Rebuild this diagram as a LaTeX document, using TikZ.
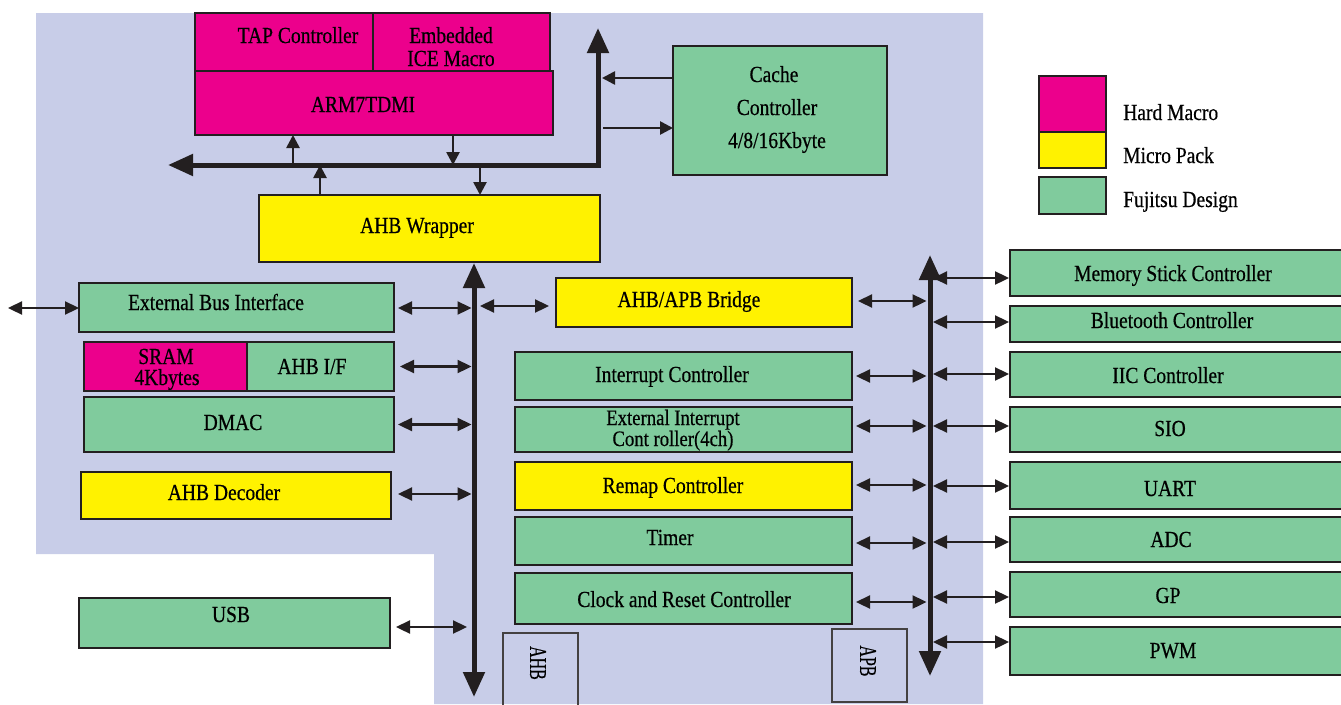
\documentclass[tikz,border=0pt]{standalone}
\usepackage{fontspec}
\setmainfont[FakeStretch=0.85,FakeBold=0.5]{Liberation Serif}
\usepackage{graphicx}
\usetikzlibrary{arrows.meta,calc}
\definecolor{hard}{HTML}{EC008C}
\definecolor{micro}{HTML}{FFF200}
\definecolor{fuji}{HTML}{80CB9D}
\definecolor{lav}{HTML}{C8CDE8}
\definecolor{linec}{HTML}{231F20}
\newcommand\blk[6]{\node[box, fill=#6, minimum width={#4-#2}, minimum height={#5-#3}] (#1) at ({(#2+#4)/2},{(#3+#5)/2}) {};}
\newcommand\tx[4]{\node[lbl] (#1) at (#2,#3) {#4};}
\begin{document}
\begin{tikzpicture}[x=1pt,y=-1pt,
  box/.style={draw=linec, line width=2.6pt, inner sep=0pt, outer sep=0pt},
  lbl/.style={font=\fontsize{23}{23}\selectfont, inner sep=0pt, anchor=base, text=black},
  lbls/.style={lbl, font=\fontsize{22}{22}\selectfont},
  lblw/.style={lbl, anchor=base west},
  dbl/.style={draw=linec, line width=2.3pt, {Triangle[length=14pt,width=13pt]}-{Triangle[length=14pt,width=13pt]}},
  sgl/.style={draw=linec, line width=2.6pt, -{Triangle[length=13pt,width=13pt]}},
  bus/.style={draw=linec, line width=5pt, line join=miter, {Triangle[length=25pt,width=21pt]}-{Triangle[length=25pt,width=21pt]}},
  tagbox/.style={draw=linec!85, line width=1.6pt, inner sep=0pt, outer sep=0pt},
  tag/.style={font=\fontsize{24}{24}\selectfont, inner sep=0pt, rotate=-90}
]
\useasboundingbox (0,0) rectangle (1341,704);
% background
\fill[lav] (36,13) -- (983,13) -- (983,704) -- (434,704) -- (434,554) -- (36,554) -- cycle;

% top blocks
\blk{tap}{195}{13}{373}{71}{hard}
\blk{ice}{373}{13}{550}{71}{hard}
\blk{arm}{195}{71}{553}{135}{hard}
\blk{cache}{673}{46}{887}{175}{fuji}
\blk{wrap}{259}{195}{600}{262}{micro}
\tx{tTap}{298}{43}{TAP Controller}
\tx{tIce1}{451}{43}{Embedded}
\tx{tIce2}{451}{66}{ICE Macro}
\tx{tArm}{363}{112}{ARM7TDMI}
\tx{tC1}{774}{82}{Cache}
\tx{tC2}{777}{115}{Controller}
\tx{tC3}{777}{148}{4/8/16Kbyte}
\tx{tWrap}{417}{233}{AHB Wrapper}

% legend
\blk{lgH}{1039}{76}{1106}{132}{hard}
\blk{lgM}{1039}{132}{1106}{168}{micro}
\blk{lgF}{1039}{177}{1106}{214}{fuji}
\node[lblw] (tlgH) at (1123,120) {Hard Macro};
\node[lblw] (tlgM) at (1123,163) {Micro Pack};
\node[lblw] (tlgF) at (1123,207) {Fujitsu Design};

% left column
\blk{ebi}{79}{283}{394}{332}{fuji}
\blk{sram}{84}{342}{247}{391}{hard}
\blk{ahbif}{247}{342}{394}{391}{fuji}
\blk{dmac}{84}{397}{394}{452}{fuji}
\blk{dec}{81}{472}{391}{519}{micro}
\blk{usb}{79}{598}{390}{648}{fuji}
\tx{tEbi}{216}{310}{External Bus Interface}
\tx{tS1}{166}{364}{SRAM}
\tx{tS2}{167}{385}{4Kbytes}
\tx{tIf}{312}{374}{AHB I/F}
\tx{tDmac}{233}{430}{DMAC}
\tx{tDec}{224}{500}{AHB Decoder}
\tx{tUsb}{231}{622}{USB}

% middle column
\blk{bridge}{556}{278}{852}{327}{micro}
\blk{intc}{515}{352}{852}{400}{fuji}
\blk{eint}{515}{407}{852}{452}{fuji}
\blk{remap}{515}{462}{852}{510}{micro}
\blk{timer}{515}{517}{852}{565}{fuji}
\blk{clk}{515}{573}{852}{624}{fuji}
\tx{tBr}{689}{307}{AHB/APB Bridge}
\tx{tInt}{672}{382}{Interrupt Controller}
\node[lbls] (tE1) at (673,425) {External Interrupt};
\node[lbls] (tE2) at (673,446) {Cont roller(4ch)};
\tx{tRe}{673}{493}{Remap Controller}
\tx{tTi}{670}{545}{Timer}
\tx{tClk}{684}{607}{Clock and Reset Controller}

% right column
\blk{ms}{1010}{250}{1350}{296}{fuji}
\blk{bt}{1010}{306}{1350}{342}{fuji}
\blk{iic}{1010}{352}{1350}{397}{fuji}
\blk{sio}{1010}{407}{1350}{452}{fuji}
\blk{uart}{1010}{462}{1350}{509}{fuji}
\blk{adc}{1010}{517}{1350}{562}{fuji}
\blk{gp}{1010}{572}{1350}{617}{fuji}
\blk{pwm}{1010}{627}{1350}{675}{fuji}
\tx{tMs}{1173}{281}{Memory Stick Controller}
\tx{tBt}{1172}{328}{Bluetooth Controller}
\tx{tIic}{1168}{383}{IIC Controller}
\tx{tSio}{1170}{436}{SIO}
\tx{tUart}{1170}{496}{UART}
\tx{tAdc}{1171}{547}{ADC}
\tx{tGp}{1168}{603}{GP}
\tx{tPwm}{1173}{658}{PWM}

% bus labels
\node[tagbox, minimum width=75, minimum height=80] (ahbL) at (540.5,673) {};
\node[tagbox, minimum width=75, minimum height=73] (apbL) at (869.5,665.5) {};
\node[tag] (tAhb) at (538,663) {\scalebox{0.78}[1]{AHB}};
\node[tag] (tApb) at (868,661) {\scalebox{0.78}[1]{APB}};

% buses
\coordinate (cTop) at (598,28);
\coordinate (cCorner) at (598,165);
\coordinate (cLeft) at (168,165);
\draw[bus] (cTop) -- (cCorner) -- (cLeft);
\coordinate (ahbT) at (474,263);
\coordinate (ahbB) at (474,697);
\draw[bus] (ahbT) -- (ahbB);
\coordinate (apbT) at (930,255);
\coordinate (apbB) at (930,676);
\draw[bus] (apbT) -- (apbB);

% arm / wrapper arrows
\coordinate (a1) at (293,165);
\coordinate (a2) at (453,165);
\coordinate (a3) at (320,165);
\coordinate (a4) at (480,165);
\draw[sgl] (a1) -- (a1 |- arm.south);
\draw[sgl] (a2 |- arm.south) -- (a2);
\draw[sgl] (wrap.north -| a3) -- (a3);
\draw[sgl] (a4) -- (wrap.north -| a4);

% cache arrows
\coordinate (cc1) at (602,78);
\coordinate (cc2) at (603,128);
\draw[sgl] (cache.west |- cc1) -- (cc1);
\draw[sgl] (cc2) -- (cache.west |- cc2);

% external bus
\coordinate (ext) at (8,308);
\draw[dbl] (ext) -- (ebi.west |- ext);

% left column to AHB
\draw[dbl, shorten >=2.5pt] ([xshift=4pt]ebi.east |- ext) -- (ext -| ahbT);
\draw[dbl, shorten >=2.5pt] ([xshift=6pt]ahbif.east) -- (ahbif.east -| ahbT);
\draw[dbl, shorten >=2.5pt] ([xshift=4pt]dmac.east) -- (dmac.east -| ahbT);
\coordinate (d1) at (398,494);
\draw[dbl, shorten >=2.5pt] (d1) -- (d1 -| ahbT);
\coordinate (u1) at (396,627);
\coordinate (u2) at (467,627);
\draw[dbl] (u1) -- (u2);

% bridge arrows
\coordinate (b1) at (480,306);
\draw[dbl] (b1) -- ($(bridge.west |- b1)+(-7,0)$);
\coordinate (b2) at (858,301);
\draw[dbl, shorten >=3.5pt] (b2) -- (b2 -| apbT);

% middle to APB
\foreach \n/\yy in {intc/376, eint/426, remap/485, timer/543, clk/602}{
  \draw[dbl, shorten >=3.5pt] ($(\n.east |- 0,\yy)+(4,0)$) -- (apbT |- 0,\yy);
}

% APB to right column
\foreach \n/\yy in {ms/278, bt/322, iic/374, sio/426, uart/486, adc/542, gp/597, pwm/642}{
  \draw[dbl, shorten <=3pt, shorten >=1pt] (apbT |- 0,\yy) -- (\n.west |- 0,\yy);
}
\end{tikzpicture}
\end{document}
